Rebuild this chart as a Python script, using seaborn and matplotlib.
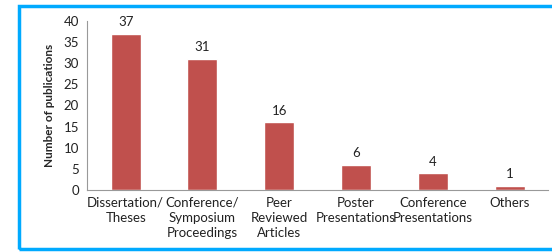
import matplotlib
matplotlib.use("Agg")
import matplotlib.pyplot as plt
import seaborn as sns
import numpy as np
from matplotlib.patches import Rectangle

categories = ["Dissertation/\nTheses", "Conference/\nSymposium\nProceedings", "Peer\nReviewed\nArticles",
              "Poster\nPresentations", "Conference\nPresentations", "Others"]
counts = [37, 31, 16, 6, 4, 1]

sns.set_style("white")
plt.rcParams['font.family'] = ['Lato', 'DejaVu Sans']

fig = plt.figure(figsize=(5.52, 2.52), dpi=100)
ax = fig.add_axes([0.158, 0.246, 0.835, 0.671])

sns.barplot(x=list(range(len(categories))), y=counts, color="#C0504D", saturation=1,
            width=0.39, ax=ax)

for i, v in enumerate(counts):
    ax.text(i, v + 1.3, str(v), ha='center', va='bottom', fontsize=9.5, color='#222222')

ax.set_xlim(-0.5, len(categories) - 0.5)
ax.set_ylim(0, 40)
ax.set_yticks(range(0, 41, 5))
ax.set_xticks(range(len(categories)))
ax.set_xticklabels(categories, fontsize=9.5, color='#222222', va='top', linespacing=1.3)
ax.set_xticks(np.arange(-0.5, len(categories)), minor=True)
ax.tick_params(axis='x', which='major', length=0, pad=5)
ax.tick_params(axis='x', which='minor', length=3, direction='out', color='#999999')
ax.tick_params(axis='y', length=3, direction='out', color='#999999', labelsize=9.5, labelcolor='#222222', pad=3)
ax.set_ylabel("Number of publications", fontsize=8.5, fontweight='bold', labelpad=6)

for s in ['top', 'right']:
    ax.spines[s].set_visible(False)
for s in ['left', 'bottom']:
    ax.spines[s].set_color('#999999')
    ax.spines[s].set_linewidth(0.8)

fig.patches.append(Rectangle((19 / 552, 3 / 252), 1.0, 243 / 252, transform=fig.transFigure,
                             fill=False, edgecolor='#00AAFF', linewidth=2.5, zorder=5))

fig.savefig("out.png", dpi=100)
